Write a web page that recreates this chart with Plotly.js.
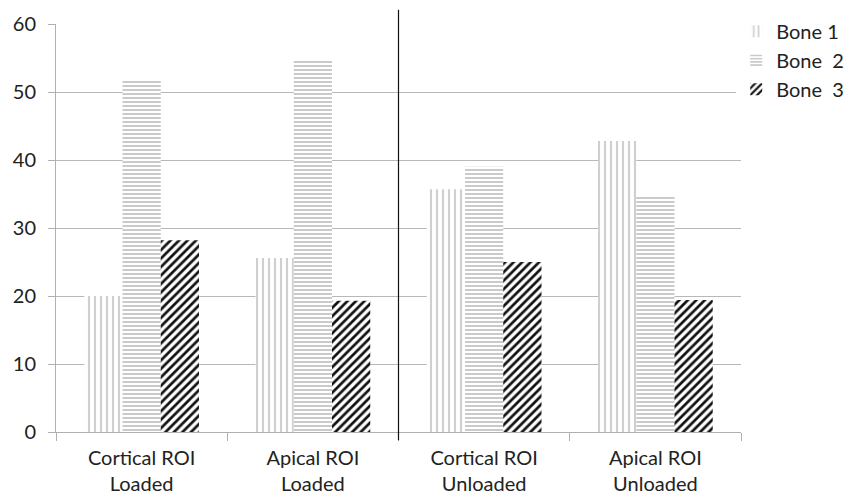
<!DOCTYPE html>
<html>
<head>
<meta charset="utf-8">
<script src="https://cdn.plot.ly/plotly-3.0.1.min.js"></script>
<style>html,body{margin:0;padding:0;background:#fff;}#chart{width:856px;height:497px;}</style>
</head>
<body>
<div id="chart"></div>
<script>
const categories = ["Cortical ROI<br>Loaded", "Apical ROI<br>Loaded", "Cortical ROI<br>Unloaded", "Apical ROI<br>Unloaded"];
const seriesNames = ["Bone 1", "Bone\u00a0 2", "Bone\u00a0 3"];
const bone1 = [20.0, 25.6, 35.7, 42.8];
const bone2 = [51.6, 54.6, 39.0, 34.6];
const bone3 = [28.2, 19.3, 25.0, 19.4];
const yTicks = [0, 10, 20, 30, 40, 50, 60];

const traces = [
  {type:'bar', name: seriesNames[0], legendgroup:'g1', x: categories, y: bone1,
   marker:{color:'#ffffff', line:{width:0}, pattern:{shape:'|', fgcolor:'#cfcfcf', bgcolor:'#ffffff', size:6, solidity:0.35}}},
  {type:'bar', name: seriesNames[1], legendgroup:'g2', x: categories, y: bone2,
   marker:{color:'#ffffff', line:{width:0}, pattern:{shape:'-', fgcolor:'#c4c4c4', bgcolor:'#ffffff', size:4, solidity:0.45}}},
  {type:'bar', name: seriesNames[2], legendgroup:'g3', x: categories, y: bone3,
   marker:{color:'#ffffff', line:{width:0}, pattern:{shape:'/', fgcolor:'#111111', bgcolor:'#ffffff', size:6, solidity:0.45}}}
];

const layout = {
  width: 856, height: 497,
  margin: {l: 56, r: 115, t: 24, b: 65, autoexpand: false},
  paper_bgcolor: '#ffffff', plot_bgcolor: '#ffffff',
  font: {family: 'Lato, Open Sans, sans-serif', size: 19, color: '#222'},
  barmode: 'group', bargap: 0.33, bargroupgap: 0,
  showlegend: true,
  legend: {x: 0.993, y: 1.03, xanchor: 'left', yanchor: 'top', font: {size: 20, color: '#222'},
           traceorder: 'grouped', tracegroupgap: 0, itemwidth: 30},
  xaxis: {
    type: 'category', showgrid: false, showline: true, linecolor: '#b0b0b0', linewidth: 1,
    ticks: 'outside', tickson: 'boundaries', ticklen: 8, tickcolor: '#b0b0b0',
    tickfont: {size: 20, color: '#222'}, zeroline: false, ticklabelstandoff: 8, automargin: false
  },
  yaxis: {
    range: [0, 60], tickvals: yTicks, showgrid: true, gridcolor: '#b8b8b8', gridwidth: 1,
    showline: true, linecolor: '#b0b0b0', ticks: 'outside', ticklen: 7, tickcolor: '#b0b0b0',
    tickfont: {size: 20, color: '#222'}, zeroline: false, ticklabelstandoff: 8, automargin: false
  },
  shapes: [
    {type: 'line', xref: 'x', yref: 'paper', x0: 1.5, x1: 1.5, y0: -0.02, y1: 1.035, line: {color: '#111', width: 1.2}}
  ]
};

Plotly.newPlot('chart', traces, layout, {displayModeBar: false, staticPlot: true});
</script>
</body>
</html>
